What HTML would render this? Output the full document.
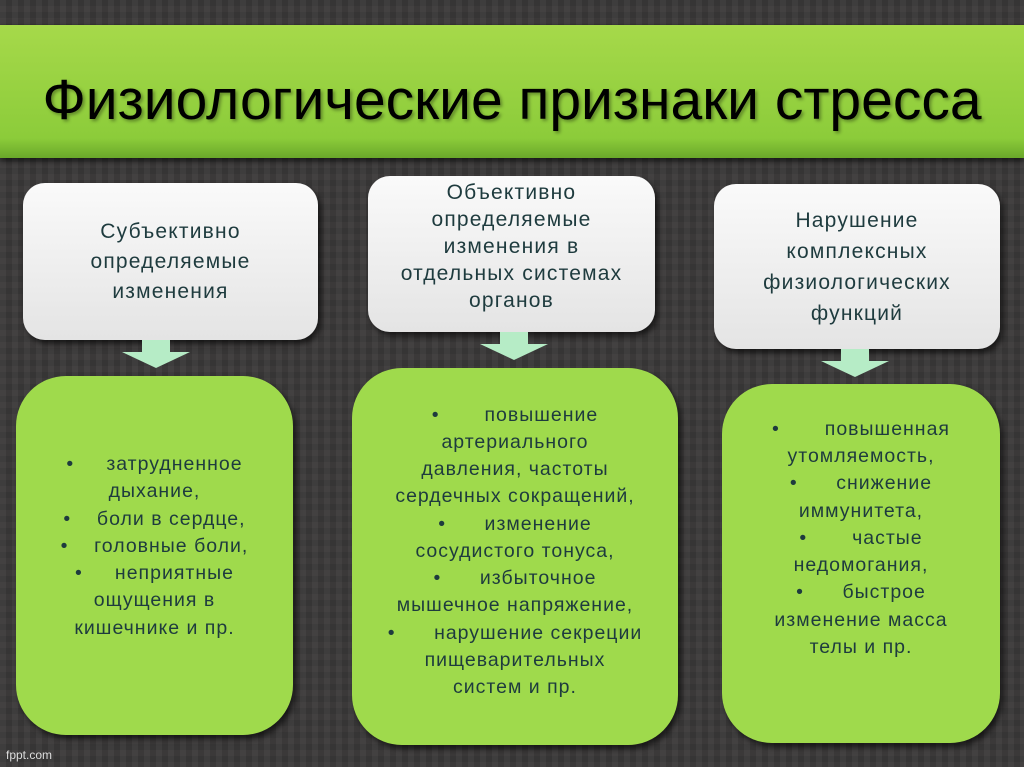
<!DOCTYPE html>
<html><head><meta charset="utf-8"><style>
body{margin:0;width:1024px;height:767px;overflow:hidden;background:#3b3939;
background-image:linear-gradient(90deg,rgba(255,255,255,.04) 50%,transparent 50%),linear-gradient(rgba(0,0,0,.08) 50%,transparent 50%);
background-size:12px 12px;font-family:"Liberation Sans",sans-serif;position:relative}
.title{position:absolute;left:0;top:25px;width:1024px;height:133px;background:linear-gradient(#a6d94a,#8ccc3a 85%,#6aa82a);box-shadow:0 3px 6px rgba(0,0,0,.6)}
.title div{position:absolute;left:0;width:1024px;text-align:center;top:42px;font-size:57px;line-height:66px;color:#000;text-shadow:2px 2px 3px rgba(0,0,0,.35);white-space:nowrap}
.w,.g{position:absolute;box-sizing:border-box;display:flex;align-items:center;justify-content:center;text-align:center;color:#1e3b3e;box-shadow:3px 4px 6px rgba(0,0,0,.6);white-space:nowrap}
.w{background:linear-gradient(#fafafa,#e4e4e4);border-radius:22px;font-size:21px;letter-spacing:1.2px;line-height:30px}
.g{background:#9fda4c;border-radius:50px;font-size:19.5px;letter-spacing:1px;line-height:27.2px}
.arr{position:absolute}
.foot{position:absolute;left:6px;top:748px;font-size:12px;color:#ddd}
</style></head><body>
<div class="title"><div>Физиологические признаки стресса</div></div>
<div class="w" style="left:23px;top:183px;width:295px;height:157px">Субъективно<br>определяемые<br>изменения</div>
<div class="w" style="left:368px;top:176px;width:287px;height:156px;align-items:flex-start;padding-top:3px;line-height:27px">Объективно<br>определяемые<br>изменения в<br>отдельных системах<br>органов</div>
<div class="w" style="left:714px;top:184px;width:286px;height:165px;line-height:31px">Нарушение<br>комплексных<br>физиологических<br>функций</div>
<svg class="arr" style="left:122px;top:340px" width="70" height="30"><polygon points="20,0 48,0 48,12 68,12 34,28 0,12 20,12" fill="#b6ecc6"/></svg>
<svg class="arr" style="left:480px;top:332px" width="70" height="30"><polygon points="20,0 48,0 48,12 68,12 34,28 0,12 20,12" fill="#b6ecc6"/></svg>
<svg class="arr" style="left:821px;top:349px" width="70" height="30"><polygon points="20,0 48,0 48,12 68,12 34,28 0,12 20,12" fill="#b6ecc6"/></svg>
<div class="g" style="left:16px;top:376px;width:277px;height:359px;padding-bottom:18px">•&nbsp;&nbsp;&nbsp;&nbsp; затрудненное<br>дыхание,<br>•&nbsp;&nbsp;&nbsp; боли в сердце,<br>•&nbsp;&nbsp;&nbsp; головные боли,<br>•&nbsp;&nbsp;&nbsp;&nbsp; неприятные<br>ощущения в<br>кишечнике и пр.</div>
<div class="g" style="left:352px;top:368px;width:326px;height:377px;padding-bottom:10px">•&nbsp;&nbsp;&nbsp;&nbsp;&nbsp;&nbsp; повышение<br>артериального<br>давления, частоты<br>сердечных сокращений,<br>•&nbsp;&nbsp;&nbsp;&nbsp;&nbsp; изменение<br>сосудистого тонуса,<br>•&nbsp;&nbsp;&nbsp;&nbsp;&nbsp; избыточное<br>мышечное напряжение,<br>•&nbsp;&nbsp;&nbsp;&nbsp;&nbsp; нарушение секреции<br>пищеварительных<br>систем и пр.</div>
<div class="g" style="left:722px;top:384px;width:278px;height:359px;padding-bottom:50px">•&nbsp;&nbsp;&nbsp;&nbsp;&nbsp;&nbsp; повышенная<br>утомляемость,<br>•&nbsp;&nbsp;&nbsp;&nbsp;&nbsp; снижение<br>иммунитета,<br>•&nbsp;&nbsp;&nbsp;&nbsp;&nbsp;&nbsp; частые<br>недомогания,<br>•&nbsp;&nbsp;&nbsp;&nbsp;&nbsp; быстрое<br>изменение масса<br>телы и пр.</div>
<div class="foot">fppt.com</div>
</body></html>
